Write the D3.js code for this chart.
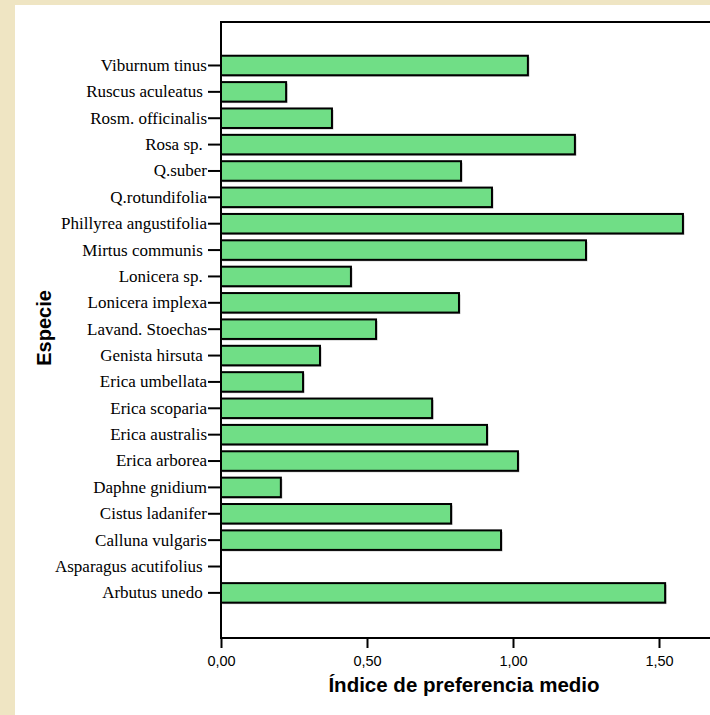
<!DOCTYPE html>
<html>
<head>
<meta charset="utf-8">
<script src="https://cdn.jsdelivr.net/npm/d3@7"></script>
<style>
  body { margin: 0; background: #efe5c3; }
  svg { display: block; }
  .ylab text { white-space: pre; }
</style>
</head>
<body>
<div class="chart"></div>
<script>
// especies, de arriba abajo (algunas etiquetas llevan espacio final, como en el original)
const especies = [
  "Viburnum tinus", "Ruscus aculeatus ", "Rosm. officinalis", "Rosa sp. ",
  "Q.suber", "Q.rotundifolia", "Phillyrea angustifolia", "Mirtus communis ",
  "Lonicera sp. ", "Lonicera implexa", "Lavand. Stoechas", "Genista hirsuta ",
  "Erica umbellata", "Erica scoparia", "Erica australis", "Erica arborea",
  "Daphne gnidium", "Cistus ladanifer", "Calluna vulgaris",
  "Asparagus acutifolius ", "Arbutus unedo "
]
const indiceMedio = [
  1.051, 0.223, 0.380, 1.212,
  0.822, 0.928, 1.582, 1.250,
  0.445, 0.815, 0.531, 0.339,
  0.281, 0.723, 0.911, 1.017,
  0.205, 0.788, 0.959,
  0, 1.521
]
const xTicks = [0, 0.5, 1.0, 1.5]

const W = 710, H = 715
const margin = { top: 22, left: 221, bottom: 638 }

const svg = d3.select(".chart").append("svg")
  .attr("width", W).attr("height", H)

// panel blanco
svg.append("rect")
  .attr("x", 15).attr("y", 5)
  .attr("width", W - 15).attr("height", H - 5)
  .attr("fill", "#fff")

const x = d3.scaleLinear()
  .domain([0, 1.7])
  .range([margin.left, margin.left + 1.7 * 292])

const y = d3.scaleBand()
  .domain(especies)
  .range([52.3, 52.3 + 21 * 26.37])
  .paddingInner(0.26)
  .paddingOuter(0.13)

const data = especies.map((e, i) => ({ especie: e, valor: indiceMedio[i] }))

// sombras de las barras
svg.append("g").selectAll("rect")
  .data(data.filter(d => d.valor > 0))
  .join("rect")
  .attr("x", x(0) + 1.5)
  .attr("y", d => y(d.especie) + 1.5)
  .attr("width", d => x(d.valor) - x(0))
  .attr("height", y.bandwidth())
  .attr("fill", "#b8b8b8")

svg.append("g").selectAll("rect")
  .data(data.filter(d => d.valor > 0))
  .join("rect")
  .attr("x", x(0))
  .attr("y", d => y(d.especie))
  .attr("width", d => x(d.valor) - x(0))
  .attr("height", y.bandwidth())
  .attr("fill", "#70de86")
  .attr("stroke", "#000")
  .attr("stroke-width", 2)

// marco
svg.append("path")
  .attr("d", `M${W + 5},${margin.top}H${margin.left}V${margin.bottom}H${W + 5}`)
  .attr("fill", "none")
  .attr("stroke", "#000")
  .attr("stroke-width", 2)

// eje Y
const yAxis = svg.append("g")
  .attr("class", "ylab")
  .attr("transform", `translate(${margin.left},0)`)
  .call(d3.axisLeft(y).tickSize(13).tickPadding(1).tickSizeOuter(0))
yAxis.select(".domain").remove()
yAxis.selectAll(".tick line").attr("stroke-width", 2)
yAxis.selectAll(".tick text")
  .attr("font-family", "'Liberation Serif', 'Times New Roman', serif")
  .attr("font-size", 17)
  .attr("fill", "#000")

// eje X
const xAxis = svg.append("g")
  .attr("transform", `translate(0,${margin.bottom})`)
  .call(d3.axisBottom(x).tickValues(xTicks).tickSize(10).tickPadding(8)
    .tickFormat(d => d3.format(".2f")(d).replace(".", ",")))
xAxis.select(".domain").remove()
xAxis.selectAll(".tick line").attr("stroke-width", 2)
xAxis.selectAll(".tick text")
  .attr("font-family", "'Liberation Sans', Arial, sans-serif")
  .attr("font-size", 14.5)
  .attr("fill", "#000")

// títulos
svg.append("text")
  .attr("x", 464).attr("y", 692)
  .attr("text-anchor", "middle")
  .attr("font-family", "'Liberation Sans', Arial, sans-serif")
  .attr("font-weight", "bold")
  .attr("font-size", 20.5)
  .text("Índice de preferencia medio")

svg.append("text")
  .attr("transform", "translate(51,328) rotate(-90)")
  .attr("text-anchor", "middle")
  .attr("font-family", "'Liberation Sans', Arial, sans-serif")
  .attr("font-weight", "bold")
  .attr("font-size", 20)
  .text("Especie")
</script>
</body>
</html>
